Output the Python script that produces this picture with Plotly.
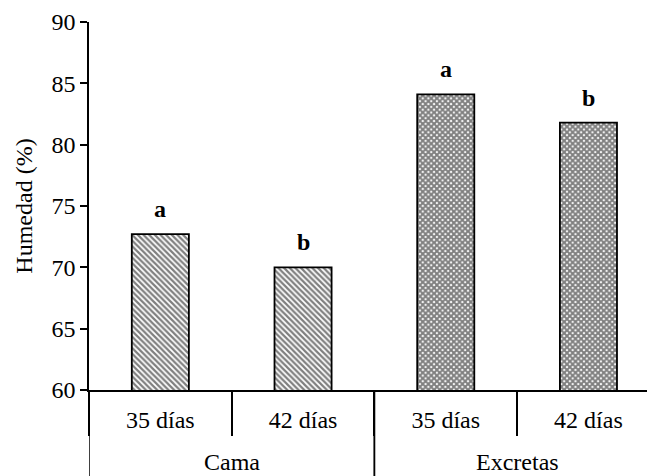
import plotly.graph_objects as go

groups = ["Cama", "Cama", "Excretas", "Excretas"]
periods = ["35 días", "42 días", "35 días", "42 días"]
humedad = [72.7, 70.0, 84.1, 81.8]
letters = ["a", "b", "a", "b"]
y_ticks = [60, 65, 70, 75, 80, 85, 90]

FONT = "Liberation Serif"
FS = 24
W, H = 647, 476
ML, MR, MT, MB = 89, 0, 22, 86
PLOT_H = H - MT - MB
CAT_PX = 142.7

idx = list(range(len(periods)))

fig = go.Figure()
fig.add_trace(go.Bar(
    x=idx,
    y=humedad,
    width=0.4,
    marker=dict(
        color="white",
        line=dict(color="black", width=1.8),
        pattern=dict(
            shape=["\\", "\\", "x", "x"],
            size=[4, 4, 4, 4],
            solidity=[0.55, 0.55, 0.75, 0.75],
            fgcolor="black",
            bgcolor="white",
        ),
    ),
    showlegend=False,
))

for i, (v, t) in enumerate(zip(humedad, letters)):
    fig.add_annotation(
        x=i, y=v, text="<b>%s</b>" % t, showarrow=False,
        yanchor="bottom", yshift=10,
        font=dict(family=FONT, size=FS, color="black"),
    )

# group labels and group dividers derived from the category arrays
bottom = -MB / PLOT_H
seen = []
for g in groups:
    if g not in seen:
        seen.append(g)
for g in seen:
    members = [i for i, gg in enumerate(groups) if gg == g]
    center = sum(members) / len(members)
    fig.add_annotation(
        x=center, y=0, xref="x", yref="paper", text=g, showarrow=False,
        yanchor="middle", yshift=-72,
        font=dict(family=FONT, size=FS, color="black"),
    )
    for b in (members[0] - 0.5, members[-1] + 0.5):
        fig.add_shape(type="line", xref="x", yref="paper",
                      x0=b, x1=b, y0=0, y1=bottom,
                      line=dict(color="black", width=1.5))

fig.update_layout(
    width=W, height=H,
    margin=dict(l=ML, r=MR, t=MT, b=MB),
    plot_bgcolor="white", paper_bgcolor="white",
    font=dict(family=FONT, size=FS, color="black"),
)
fig.update_xaxes(
    range=[-0.5, -0.5 + (W - ML - MR) / CAT_PX],
    tickvals=idx, ticktext=periods,
    showline=True, linecolor="black", linewidth=1.5,
    ticks="", ticklabelstandoff=7,
    minor=dict(ticks="outside", tick0=-0.5, dtick=1, ticklen=44,
               tickwidth=1.5, tickcolor="black", showgrid=False),
    showgrid=False, zeroline=False,
    tickfont=dict(family=FONT, size=FS, color="black"),
)
fig.update_yaxes(
    range=[60, 90], tickvals=y_ticks,
    showline=True, linecolor="black", linewidth=1.5,
    ticks="outside", ticklen=7, tickwidth=1.5, tickcolor="black",
    showgrid=False, zeroline=False,
    title=dict(text="Humedad (%)", standoff=12, font=dict(family=FONT, size=FS, color="black")),
    tickfont=dict(family=FONT, size=FS, color="black"),
)

fig.write_html("out.html")
